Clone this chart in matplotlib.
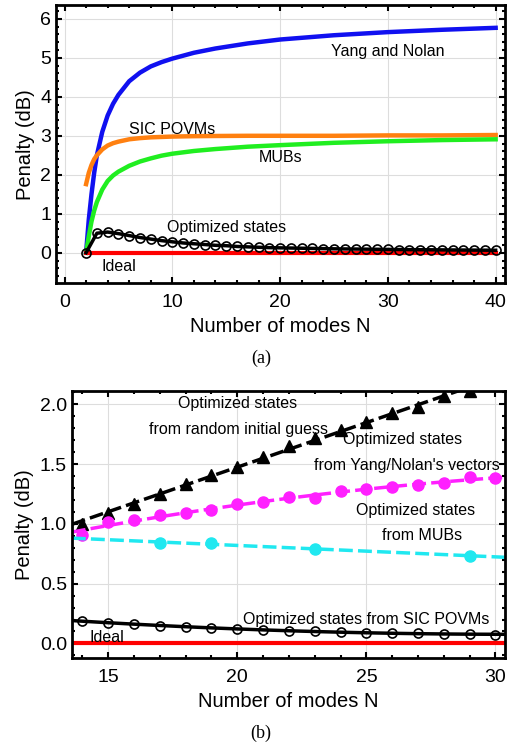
import numpy as np
import matplotlib
matplotlib.use("Agg")
import matplotlib.pyplot as plt
from matplotlib.ticker import MultipleLocator

plt.rcParams['font.family'] = ['Liberation Sans', 'DejaVu Sans']

# ---------------- Panel (a) data ----------------
n_curve = [2, 2.25, 2.5, 2.75, 3, 3.5, 4, 4.5, 5, 6, 7, 8, 9, 10, 12, 14, 17, 20, 25, 30, 35, 40]
yang_nolan = [0.0, 0.85, 1.5, 2.05, 2.5, 3.1, 3.52, 3.82, 4.05, 4.4, 4.62, 4.78, 4.89, 4.98,
              5.13, 5.24, 5.37, 5.47, 5.58, 5.66, 5.72, 5.77]
sic_povm = [1.76, 2.05, 2.25, 2.4, 2.5, 2.65, 2.75, 2.81, 2.85, 2.91, 2.94, 2.96, 2.97, 2.98,
            2.99, 2.995, 3.0, 3.0, 3.0, 3.01, 3.01, 3.02]
mubs = [0.0, 0.42, 0.8, 1.08, 1.3, 1.62, 1.84, 1.98, 2.08, 2.23, 2.34, 2.42, 2.49, 2.54,
        2.61, 2.66, 2.72, 2.76, 2.82, 2.86, 2.89, 2.91]

n_opt = list(range(2, 41))
opt_states = [0.0, 0.50, 0.53, 0.49, 0.44, 0.39, 0.35, 0.31, 0.28, 0.25, 0.23, 0.21, 0.19,
              0.18, 0.16, 0.15, 0.14, 0.13, 0.125, 0.12, 0.115, 0.11, 0.105, 0.10, 0.097,
              0.094, 0.091, 0.088, 0.085, 0.082, 0.079, 0.077, 0.075, 0.073, 0.071, 0.069,
              0.067, 0.065, 0.063]
ideal_a = [0.0, 0.0]
ideal_a_n = [2, 40]

# ---------------- Panel (b) data ----------------
n_rand = list(range(14, 30))
rand_guess = [1.0, 1.09, 1.17, 1.25, 1.335, 1.41, 1.48, 1.556, 1.648, 1.72, 1.79, 1.85,
              1.93, 1.98, 2.07, 2.11]
n_yn = list(range(14, 31))
from_yn = [0.908, 1.02, 1.03, 1.075, 1.095, 1.117, 1.165, 1.18, 1.224, 1.215, 1.277,
           1.293, 1.307, 1.327, 1.341, 1.391, 1.383]
n_mub = [17, 19, 23, 29]
from_mub = [0.843, 0.838, 0.788, 0.734]
n_sic = list(range(14, 31))
from_sic = [0.19, 0.173, 0.159, 0.148, 0.137, 0.131, 0.122, 0.111, 0.106, 0.1, 0.095,
            0.089, 0.086, 0.084, 0.081, 0.078, 0.072]

fig = plt.figure(figsize=(5.13, 7.47), dpi=100)

def style_axes(ax, xmaj, xmin, ymaj, ymin):
    ax.xaxis.set_major_locator(MultipleLocator(xmaj))
    ax.xaxis.set_minor_locator(MultipleLocator(xmin))
    ax.yaxis.set_major_locator(MultipleLocator(ymaj))
    ax.yaxis.set_minor_locator(MultipleLocator(ymin))
    ax.tick_params(which='both', direction='in', top=True, right=True, width=1.5)
    ax.tick_params(which='major', length=4, labelsize=14)
    ax.tick_params(which='minor', length=2)
    ax.tick_params(axis='x', pad=8)
    for s in ax.spines.values():
        s.set_linewidth(2.0)
    ax.grid(True, which='major', color='#dddddd', linewidth=0.8)
    ax.set_axisbelow(True)

# ---- Panel (a)
ax1 = fig.add_axes([0.109, 0.621, 0.875, 0.372])
ax1.plot(n_curve, yang_nolan, color='#1010f0', lw=3.2)
ax1.plot(n_curve, sic_povm, color='#ff8010', lw=3.2)
ax1.plot(n_curve, mubs, color='#20ee20', lw=3.2)
ax1.plot(ideal_a_n, ideal_a, color='red', lw=3)
ax1.plot(n_opt, opt_states, color='black', lw=2.5, marker='o', ms=6.5,
         mfc='none', mec='black', mew=1.2)
ax1.set_xlim(-0.8, 40.85)
ax1.set_ylim(-0.78, 6.35)
style_axes(ax1, 10, 2, 1, 0.2)
ax1.set_xlabel('Number of modes N', fontsize=14.5)
ax1.set_ylabel('Penalty (dB)', fontsize=14.5)
fs = 11.5
ax1.text(30, 5.15, 'Yang and Nolan', fontsize=fs, ha='center', va='center')
ax1.text(10, 3.17, 'SIC POVMs', fontsize=fs, ha='center', va='center')
ax1.text(20, 2.45, 'MUBs', fontsize=fs, ha='center', va='center')
ax1.text(15, 0.65, 'Optimized states', fontsize=fs, ha='center', va='center')
ax1.text(5, -0.35, 'Ideal', fontsize=fs, ha='center', va='center')
fig.text(0.509, 1 - 358 / 747, '(a)', fontsize=13, family='Liberation Serif',
         ha='center', va='center')

# ---- Panel (b)
ax2 = fig.add_axes([0.140, 0.119, 0.844, 0.358])
xmin_b, xmax_b = 13.59, 30.36
xfit = np.linspace(xmin_b, xmax_b, 100)

c = np.polyfit(n_rand, rand_guess, 1)
ax2.plot(xfit[xfit <= 29.2], np.polyval(c, xfit[xfit <= 29.2]), color='black', lw=2.5,
         ls=(0, (4, 1.5)))
ax2.plot(n_rand, rand_guess, ls='none', marker='^', ms=8, color='black')

c = np.polyfit(n_yn, from_yn, 2)
ax2.plot(xfit, np.polyval(c, xfit), color='#ff20ff', lw=2.5, ls=(0, (4, 1.5)))
ax2.plot(n_yn, from_yn, ls='none', marker='o', ms=8, color='#ff20ff')

c = np.polyfit(n_mub, from_mub, 1)
ax2.plot(xfit, np.polyval(c, xfit), color='#20e8f0', lw=2.5, ls=(0, (4, 1.5)))
ax2.plot(n_mub, from_mub, ls='none', marker='o', ms=8, color='#20e8f0')

c = np.polyfit(n_sic, from_sic, 2)
ax2.plot(xfit, np.polyval(c, xfit), color='black', lw=2.5)
ax2.plot(n_sic, from_sic, ls='none', marker='o', ms=6.5, mfc='none', mec='black', mew=1.2)

ax2.axhline(0, color='red', lw=3)
ax2.set_xlim(xmin_b, xmax_b)
ax2.set_ylim(-0.123, 2.115)
style_axes(ax2, 5, 1, 0.5, 0.1)
ax2.yaxis.set_major_formatter(matplotlib.ticker.FormatStrFormatter('%.1f'))
ax2.set_xlabel('Number of modes N', fontsize=14.5)
ax2.set_ylabel('Penalty (dB)', fontsize=14.5)
ax2.text(20.0, 2.006, 'Optimized states', fontsize=fs, ha='center', va='center')
ax2.text(20.04, 1.788, 'from random initial guess', fontsize=fs, ha='center', va='center')
ax2.text(26.41, 1.704, 'Optimized states', fontsize=fs, ha='center', va='center')
ax2.text(26.57, 1.489, "from Yang/Nolan's vectors", fontsize=fs, ha='center', va='center')
ax2.text(26.9, 1.109, 'Optimized states', fontsize=fs, ha='center', va='center')
ax2.text(27.15, 0.9, 'from MUBs', fontsize=fs, ha='center', va='center')
ax2.text(24.99, 0.2, 'Optimized states from SIC POVMs', fontsize=fs, ha='center', va='center')
ax2.text(14.94, 0.047, 'Ideal', fontsize=fs, ha='center', va='center')
fig.text(0.509, 1 - 733 / 747, '(b)', fontsize=13, family='Liberation Serif',
         ha='center', va='center')

fig.savefig('out.png', dpi=100)
